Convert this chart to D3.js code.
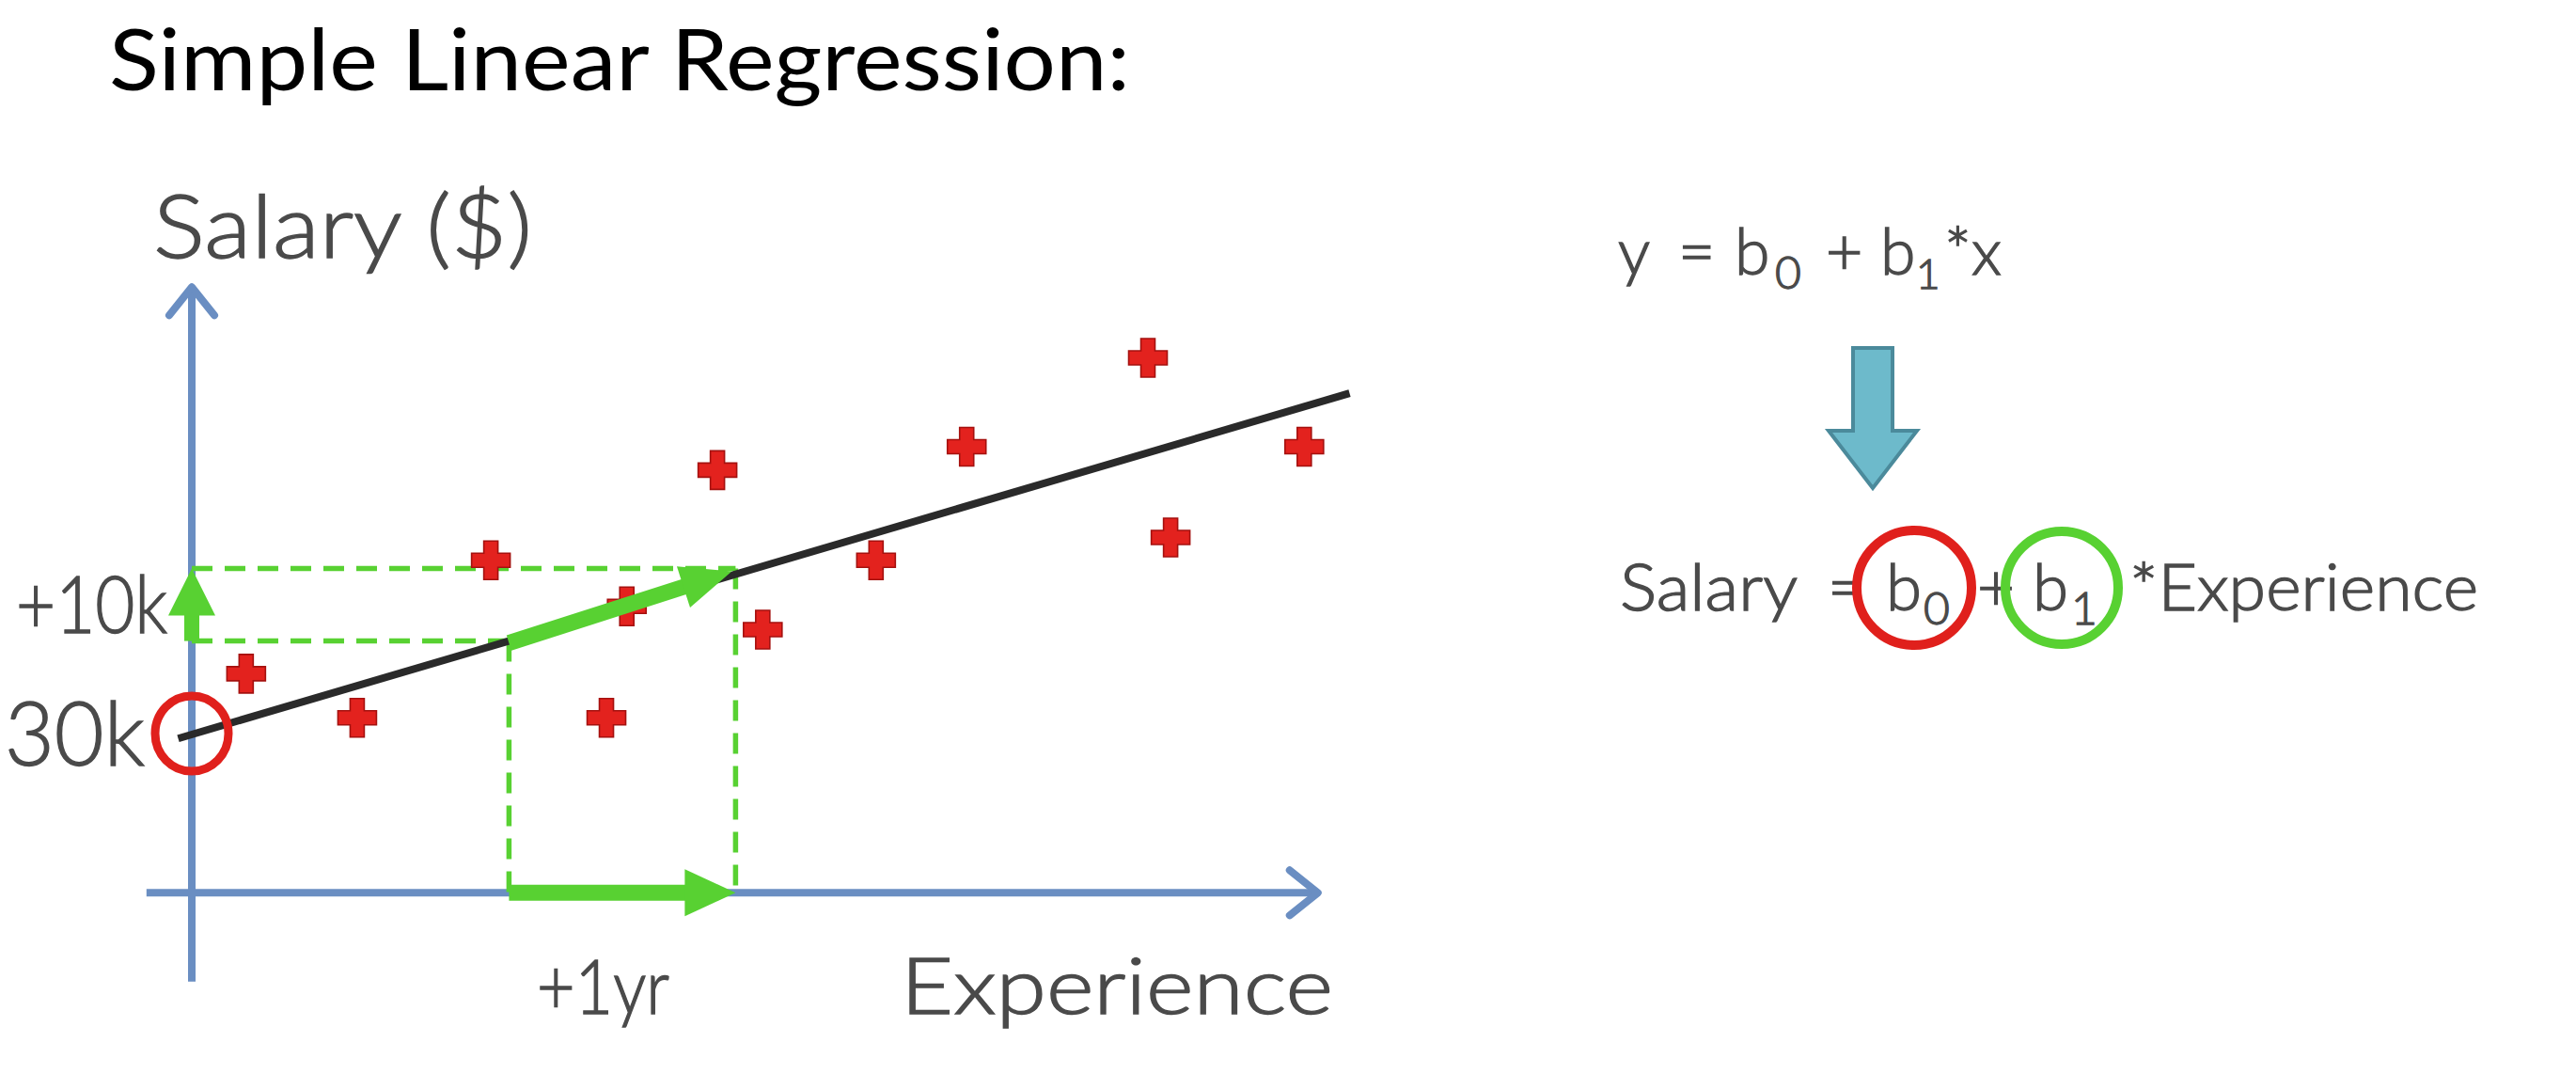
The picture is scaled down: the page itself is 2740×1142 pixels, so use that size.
<!DOCTYPE html>
<html><head><meta charset="utf-8">
<script src="https://cdn.jsdelivr.net/npm/d3@7"></script>
<style>html,body{margin:0;padding:0;background:#fff;} svg{display:block}</style>
</head><body>
<svg id="chart" width="2740" height="1142"></svg>
<script>
// ---------- data ----------
const experienceYears = [0.24, 0.73, 1.32, 1.92, 1.83, 2.32, 2.52, 3.02, 3.42, 4.22, 4.32, 4.91];
const salaryK        = [39.1, 32.5, 56.1, 49.2, 32.5, 69.6, 45.7, 56.1, 73.1, 86.4, 59.5, 73.1];
const interceptB0 = 30;          // k$
const slopeB1 = 10;              // k$ per year
const stepFromYears = 1.4;
const stepYears = 1;
const fitLineYears = [-0.06, 5.11];
const xAxisYears = [-0.2, 4.97];
const yAxisSalaryK = [-7, 97];
const xAxisAtSalaryK = 6.3;
const titleText = "Simple Linear Regression:";
const yAxisTitle = "Salary ($)";
const xAxisTitle = "Experience";
const interceptLabel = "30k";
const riseLabel = "+10k";
const runLabel = "+1yr";

(function () {
const svg = d3.select("#chart");
const FONT = "Lato, 'Open Sans', sans-serif";
const GRAY = "#4a4a4a", AXIS = "#6a8ec2", GREEN = "#58d132", RED = "#e0201c";

const x = d3.scaleLinear().domain([0, 5]).range([204, 1409]);
const y = d3.scaleLinear().domain([30, 40]).range([781, 710]);
const fit = t => interceptB0 + slopeB1 * t;

function styleGray(t) {
  return t.attr("font-family", FONT).attr("font-weight", 300).attr("fill", GRAY)
    .attr("stroke", GRAY).attr("stroke-width", 1.4);
}
function label(txt, px, py, size, target) {
  const t = styleGray(svg.append("text")).attr("x", px).attr("y", py)
    .attr("font-size", size).text(txt);
  if (target) t.attr("textLength", target).attr("lengthAdjust", "spacingAndGlyphs");
  return t;
}

// title
svg.append("text").attr("x", 116).attr("y", 96).attr("font-family", FONT).attr("font-weight", 400)
  .attr("font-size", 91).attr("fill", "#000").attr("textLength", 1086)
  .attr("lengthAdjust", "spacingAndGlyphs").text(titleText);

// ---------- axes ----------
const axisG = svg.append("g").attr("stroke", AXIS).attr("fill", "none");
const ax0 = x(xAxisYears[0]), ax1 = x(xAxisYears[1]), ay = y(xAxisAtSalaryK);
axisG.append("line").attr("x1", ax0).attr("x2", ax1).attr("y1", ay).attr("y2", ay).attr("stroke-width", 8);
axisG.append("path").attr("d", `M${ax1-30},${ay-24}L${ax1},${ay}L${ax1-30},${ay+24}`)
  .attr("stroke-width", 8).attr("stroke-linecap", "round").attr("stroke-linejoin", "round");
const yx = x(0), yb = y(yAxisSalaryK[0]), yt = y(yAxisSalaryK[1]);
axisG.append("line").attr("x1", yx).attr("x2", yx).attr("y1", yb).attr("y2", yt).attr("stroke-width", 8);
axisG.append("path").attr("d", `M${yx-24},${yt+30}L${yx},${yt}L${yx+24},${yt+30}`)
  .attr("stroke-width", 8).attr("stroke-linecap", "round").attr("stroke-linejoin", "round");

// ---------- dashed guides ----------
const s0 = stepFromYears, s1 = stepFromYears + stepYears;
const yTop = y(fit(s1)) - 6, yLow = y(fit(s0));
const dashG = svg.append("g").attr("stroke", GREEN).attr("stroke-width", 5.5)
  .attr("stroke-dasharray", "22,13").attr("fill", "none");
dashG.append("line").attr("x1", x(0)).attr("x2", x(s1)).attr("y1", yTop).attr("y2", yTop);
dashG.append("line").attr("x1", x(0)).attr("x2", x(s0)).attr("y1", yLow).attr("y2", yLow);
dashG.append("line").attr("x1", x(s0)).attr("x2", x(s0)).attr("y1", yLow).attr("y2", ay);
dashG.append("line").attr("x1", x(s1)).attr("x2", x(s1)).attr("y1", yTop).attr("y2", ay);

// ---------- regression line ----------
svg.append("line")
  .attr("x1", x(fitLineYears[0])).attr("y1", y(fit(fitLineYears[0])))
  .attr("x2", x(fitLineYears[1])).attr("y2", y(fit(fitLineYears[1])))
  .attr("stroke", "#2a2a2a").attr("stroke-width", 8);

// ---------- points ----------
const pts = experienceYears.map((e, i) => ({e, s: salaryK[i]}));
const A = 20.5, W = 7.5;
const plusPath = `M${-W},${-A}H${W}V${-W}H${A}V${W}H${W}V${A}H${-W}V${W}H${-A}V${-W}H${-W}Z`;
svg.append("g").selectAll("path").data(pts).join("path")
  .attr("d", plusPath)
  .attr("transform", d => `translate(${x(d.e)},${y(d.s)})`)
  .attr("fill", "#e3221e").attr("stroke", "#a5110f").attr("stroke-width", 1.6);

// ---------- green arrows ----------
function arrow(g, x1, y1, x2, y2, shaft, headLen, headW) {
  const dx = x2 - x1, dy = y2 - y1, L = Math.hypot(dx, dy);
  const ux = dx / L, uy = dy / L, px = -uy, py = ux;
  const bx = x2 - ux * headLen, by = y2 - uy * headLen;
  g.append("line").attr("x1", x1).attr("y1", y1).attr("x2", bx + ux * 2).attr("y2", by + uy * 2)
    .attr("stroke", GREEN).attr("stroke-width", shaft);
  g.append("path").attr("d", `M${x2},${y2}L${bx + px*headW/2},${by + py*headW/2}L${bx - px*headW/2},${by - py*headW/2}Z`)
    .attr("fill", GREEN);
}
const greenG = svg.append("g");
arrow(greenG, x(s0), yLow + 2, x(s1) - 4, y(fit(s1)) - 3, 17, 54, 46);
arrow(greenG, x(s0), ay, x(s1), ay, 17, 54, 50);
arrow(greenG, x(0), yLow, x(0), yTop, 16, 50, 50);

// intercept circle
svg.append("ellipse").attr("cx", x(0)).attr("cy", y(interceptB0) - 1).attr("rx", 39).attr("ry", 40)
  .attr("fill", "none").attr("stroke", RED).attr("stroke-width", 9);

// ---------- labels ----------
label(yAxisTitle, 163, 274, 92, 403);
label(interceptLabel, 5, y(interceptB0) + 33, 94, 149);
label(riseLabel, 17, (yLow + yTop) / 2 + 30, 85, 161);
label(runLabel, 571, 1078, 80, 141);
label(xAxisTitle, 958, 1078, 83, 460);

// ---------- right formula ----------
const base1 = 292, sub = 15;
const f1 = styleGray(svg.append("text")).attr("y", base1).attr("font-size", 68);
f1.append("tspan").attr("x", 1721).text("y");
f1.append("tspan").attr("x", 1785).text("=");
f1.append("tspan").attr("x", 1845).text("b");
f1.append("tspan").attr("x", 1888).attr("font-size", 48).attr("dy", sub).text("0");
f1.append("tspan").attr("x", 1942).attr("dy", -sub).text("+");
f1.append("tspan").attr("x", 2000).text("b");
f1.append("tspan").attr("x", 2038).attr("font-size", 44).attr("dy", sub).text("1");
f1.append("tspan").attr("x", 2068).attr("dy", -sub).text("*x");

// teal arrow
const cxA = 1992, shW = 21, arrTop = 370, hs = 458, hW = 47, arrTip = 519;
svg.append("path")
  .attr("d", `M${cxA-shW},${arrTop}H${cxA+shW}V${hs}H${cxA+hW}L${cxA},${arrTip}L${cxA-hW},${hs}H${cxA-shW}Z`)
  .attr("fill", "#6dbacb").attr("stroke", "#4b8a9b").attr("stroke-width", 4);

// second line
const base2 = 649;
label("Salary", 1723, base2, 69, 189);
label("=", 1944, base2, 69);
const f2 = styleGray(svg.append("text")).attr("y", base2).attr("font-size", 69);
f2.append("tspan").attr("x", 2006).text("b");
f2.append("tspan").attr("x", 2046).attr("font-size", 48).attr("dy", sub).text("0");
f2.append("tspan").attr("x", 2103).attr("dy", -sub).text("+");
f2.append("tspan").attr("x", 2162).text("b");
f2.append("tspan").attr("x", 2203).attr("font-size", 48).attr("dy", sub).text("1");
label("*Experience", 2265, base2, 69, 371);

svg.append("circle").attr("cx", 2036).attr("cy", 625).attr("r", 61)
  .attr("fill", "none").attr("stroke", RED).attr("stroke-width", 10);
svg.append("circle").attr("cx", 2193).attr("cy", 625).attr("r", 60)
  .attr("fill", "none").attr("stroke", GREEN).attr("stroke-width", 10);
})();
</script>
</body></html>
